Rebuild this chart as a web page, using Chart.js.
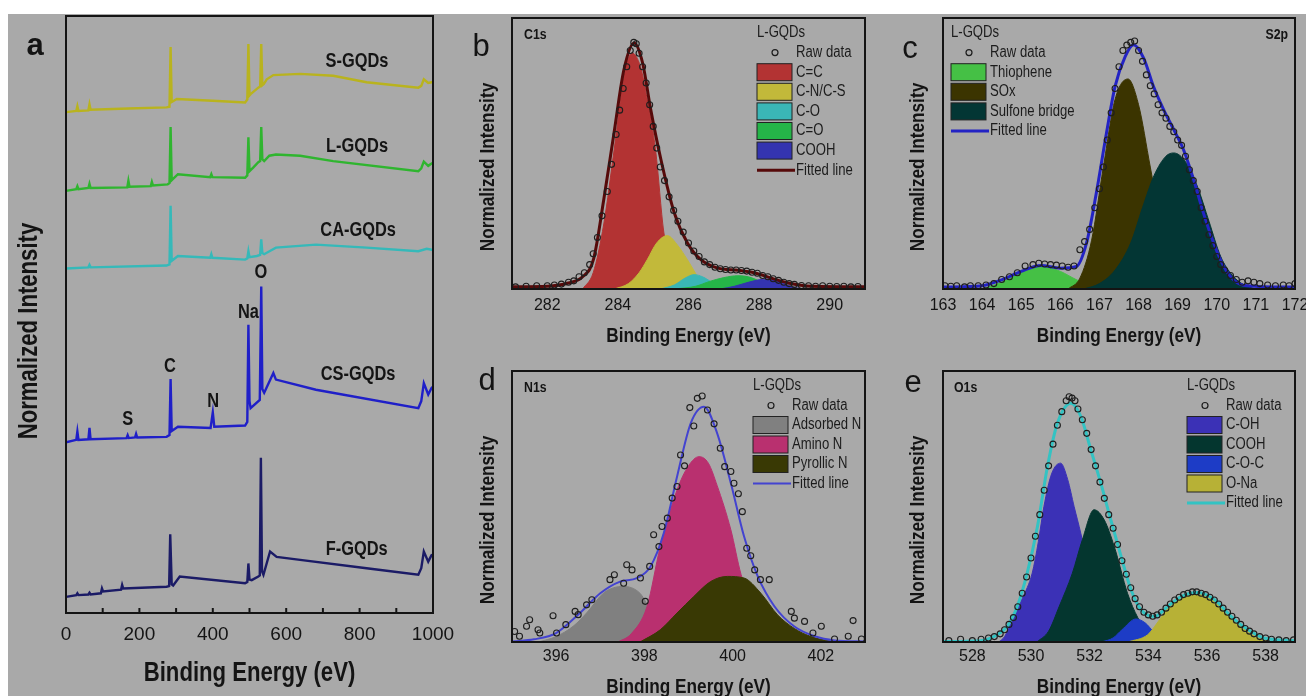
<!DOCTYPE html>
<html>
<head>
<meta charset="utf-8">
<title>XPS spectra of GQDs</title>
<script src="https://cdn.jsdelivr.net/npm/chart.js@4.4.1/dist/chart.umd.min.js"></script>
<style>
  body { margin: 0; background: #fff; width: 1306px; height: 696px; overflow: hidden; position: relative; }
  #bg { position: absolute; left: 8px; top: 14px; right: 0; bottom: 0; background: #a9a9a9; }
  canvas { position: absolute; }
</style>
</head>
<body>
<div id="bg"></div>
<canvas id="panelA" width="463" height="696" style="left:0;top:0"></canvas>
<canvas id="panelB" width="420" height="350" style="left:460px;top:0"></canvas>
<canvas id="panelC" width="440" height="350" style="left:880px;top:0"></canvas>
<canvas id="panelD" width="420" height="360" style="left:460px;top:340px"></canvas>
<canvas id="panelE" width="440" height="360" style="left:880px;top:340px"></canvas>
<script>
// ---------- data: [binding energy (eV), intensity] ----------

// a: survey spectra (stacked, arbitrary offsets 0..100)
const surveyNames = ['S-GQDs', 'L-GQDs', 'CA-GQDs', 'CS-GQDs', 'F-GQDs'];
const surveyS = [[0,83.9],[28,84.1],[31,84.9],[34,84.1],[61,84.2],[64,85.2],[67,84.3],[170,84.5],[274,84.7],[282,84.8],[285,94.8],[288,85.6],[302,86.1],[400,85.8],[488,85.5],[494,86.0],[497,95.3],[500,86.7],[503,86.9],[524,88.0],[529,88.2],[532,95.3],[535,88.4],[539,88.6],[547,89.4],[565,90.1],[638,90.3],[728,90.0],[819,88.9],[960,88.0],[968,88.3],[975,89.4],[987,88.8],[996,88.9],[1000,89.0]];
const surveyL = [[0,70.7],[28,71.0],[31,71.5],[34,71.0],[61,71.2],[64,71.9],[67,71.2],[167,71.3],[170,72.4],[173,71.4],[231,71.5],[234,72.2],[237,71.6],[277,71.8],[282,72.0],[285,81.4],[288,72.5],[305,73.5],[393,73.0],[396,73.5],[399,73.0],[488,72.9],[494,73.3],[497,79.7],[500,74.0],[510,74.6],[524,75.5],[529,75.7],[532,81.4],[535,76.0],[540,75.7],[554,76.6],[572,76.8],[638,76.6],[728,75.7],[960,74.0],[968,74.5],[975,75.6],[987,74.9],[996,75.3],[1000,75.4]];
const surveyCA = [[0,57.7],[61,57.9],[64,58.3],[67,57.9],[274,58.2],[282,58.4],[285,68.2],[288,59.0],[305,59.8],[393,59.5],[396,60.1],[399,59.5],[488,59.2],[494,59.4],[497,60.6],[500,59.6],[520,59.8],[529,60.0],[532,62.6],[535,60.3],[540,60.1],[572,61.2],[681,61.7],[819,61.2],[960,60.6],[983,61.0],[1000,60.8]];
const surveyCS = [[0,28.6],[28,29.0],[31,30.4],[34,29.0],[61,29.1],[64,31.0],[67,29.1],[165,29.3],[168,29.8],[171,29.3],[188,29.4],[191,30.0],[194,29.4],[274,29.5],[282,29.8],[285,39.2],[288,30.5],[305,31.2],[394,31.0],[400,33.6],[404,31.2],[488,31.4],[494,32.0],[497,48.3],[500,35.5],[503,34.3],[528,35.7],[532,54.7],[535,37.5],[540,36.9],[565,40.2],[572,39.1],[681,37.4],[960,34.3],[968,35.5],[975,38.5],[987,36.6],[996,37.7],[1000,37.9]];
const surveyF = [[0,2.7],[28,3.0],[31,3.3],[34,3.0],[61,3.1],[64,3.4],[67,3.1],[95,3.3],[98,4.1],[101,3.6],[150,3.9],[153,4.7],[156,4.1],[274,4.4],[281,4.5],[284,13.2],[288,4.8],[292,4.6],[310,6.1],[488,5.0],[494,5.2],[497,8.3],[500,5.6],[506,5.5],[524,6.1],[528,6.3],[531,26.0],[534,7.0],[538,6.4],[556,10.3],[574,9.4],[638,8.9],[819,7.5],[960,6.4],[968,7.5],[975,10.3],[987,8.6],[996,9.7],[1000,9.8]];

// b: C1s (normalized 0..1)
const c1sLabels = ['C=C', 'C-N/C-S', 'C-O', 'C=O', 'COOH'];
const c1sRaw = [[281.1,0.008],[281.4,0.01],[281.7,0.012],[282.0,0.012],[282.2,0.015],[282.4,0.018],[282.6,0.025],[282.75,0.03],[282.9,0.045],[283.05,0.06],[283.2,0.09],[283.3,0.13],[283.42,0.19],[283.55,0.27],[283.7,0.36],[283.82,0.46],[283.95,0.57],[284.05,0.66],[284.15,0.74],[284.25,0.82],[284.35,0.88],[284.45,0.91],[284.52,0.905],[284.6,0.87],[284.7,0.82],[284.8,0.76],[284.9,0.68],[285.0,0.6],[285.1,0.52],[285.2,0.45],[285.32,0.4],[285.45,0.34],[285.58,0.29],[285.7,0.25],[285.85,0.21],[286.0,0.17],[286.15,0.14],[286.3,0.12],[286.45,0.1],[286.6,0.09],[286.75,0.08],[286.9,0.075],[287.05,0.072],[287.2,0.07],[287.35,0.07],[287.5,0.068],[287.65,0.066],[287.8,0.062],[287.95,0.058],[288.1,0.05],[288.25,0.045],[288.4,0.038],[288.55,0.032],[288.7,0.025],[288.85,0.02],[289.0,0.017],[289.2,0.013],[289.4,0.012],[289.6,0.01],[289.8,0.012],[290.0,0.01],[290.2,0.009],[290.4,0.01],[290.6,0.008],[290.8,0.009]];
const c1sFit = [[281.0,0.008],[282.0,0.01],[282.6,0.022],[283.0,0.045],[283.31,0.11],[283.6,0.33],[283.89,0.576],[284.17,0.809],[284.46,0.908],[284.7,0.834],[284.93,0.662],[285.22,0.477],[285.6,0.28],[285.97,0.17],[286.35,0.108],[286.83,0.077],[287.4,0.069],[287.88,0.059],[288.35,0.04],[288.82,0.022],[289.48,0.01],[291.0,0.008]];
const c1sCC = [[283.0,0],[283.3,0.06],[283.6,0.24],[283.9,0.52],[284.17,0.78],[284.4,0.871],[284.64,0.82],[284.83,0.7],[285.07,0.51],[285.3,0.21],[285.5,0.1],[285.8,0.03],[286.1,0]];
const c1sCN = [[283.9,0],[284.3,0.02],[284.6,0.06],[284.83,0.108],[285.1,0.17],[285.4,0.197],[285.7,0.16],[285.97,0.108],[286.35,0.03],[286.7,0]];
const c1sCO = [[285.2,0],[285.6,0.015],[285.9,0.04],[286.16,0.053],[286.4,0.045],[286.6,0.03],[286.9,0.008],[287.1,0]];
const c1sCdO = [[285.6,0],[286.2,0.01],[286.6,0.028],[287.0,0.042],[287.4,0.049],[287.7,0.045],[288.0,0.03],[288.3,0.012],[288.6,0]];
const c1sCOOH = [[286.9,0],[287.3,0.01],[287.7,0.025],[288.0,0.034],[288.25,0.037],[288.5,0.032],[288.8,0.015],[289.1,0.003],[289.3,0]];

// c: S2p
const s2pLabels = ['Thiophene', 'SOx', 'Sulfone bridge'];
const s2pRaw = [[163.05,0.012],[163.2,0.01],[163.35,0.012],[163.55,0.008],[163.7,0.012],[163.9,0.012],[164.1,0.015],[164.3,0.02],[164.5,0.035],[164.7,0.045],[164.9,0.06],[165.1,0.085],[165.3,0.09],[165.45,0.095],[165.6,0.092],[165.75,0.09],[165.9,0.088],[166.05,0.085],[166.2,0.08],[166.35,0.085],[166.5,0.145],[166.62,0.175],[166.75,0.22],[166.88,0.3],[167.0,0.37],[167.1,0.45],[167.2,0.55],[167.3,0.65],[167.4,0.74],[167.5,0.82],[167.6,0.88],[167.7,0.9],[167.8,0.91],[167.9,0.915],[168.0,0.88],[168.1,0.84],[168.2,0.79],[168.3,0.75],[168.4,0.72],[168.5,0.68],[168.6,0.65],[168.7,0.63],[168.8,0.6],[168.9,0.58],[169.0,0.55],[169.1,0.53],[169.2,0.49],[169.3,0.44],[169.4,0.4],[169.5,0.36],[169.6,0.3],[169.7,0.25],[169.8,0.2],[169.9,0.16],[170.0,0.12],[170.1,0.09],[170.2,0.07],[170.35,0.05],[170.5,0.035],[170.65,0.025],[170.8,0.03],[170.95,0.025],[171.1,0.02],[171.3,0.015],[171.5,0.012],[171.7,0.015],[171.85,0.012],[172.0,0.02]];
const s2pFit = [[163,0.007],[164,0.012],[164.5,0.034],[165,0.065],[165.5,0.087],[166,0.077],[166.41,0.083],[166.67,0.17],[166.92,0.354],[167.18,0.576],[167.4,0.748],[167.66,0.858],[167.87,0.901],[168.13,0.852],[168.38,0.748],[168.64,0.662],[168.9,0.588],[169.15,0.514],[169.41,0.403],[169.66,0.28],[169.92,0.17],[170.18,0.083],[170.43,0.034],[170.77,0.012],[172,0.007]];
const s2pThiophene = [[164.0,0],[164.5,0.025],[165.0,0.06],[165.56,0.083],[166.0,0.065],[166.4,0.035],[166.8,0.01],[167.2,0]];
const s2pSOx = [[166.2,0],[166.5,0.04],[166.8,0.18],[167.1,0.45],[167.4,0.7],[167.73,0.775],[168.0,0.68],[168.3,0.45],[168.6,0.22],[168.9,0.08],[169.2,0.02],[169.5,0]];
const s2pSulfone = [[166.6,0],[167.0,0.02],[167.4,0.07],[167.8,0.17],[168.1,0.3],[168.4,0.42],[168.7,0.49],[168.9,0.502],[169.2,0.47],[169.5,0.38],[169.8,0.25],[170.1,0.12],[170.4,0.05],[170.7,0.015],[171.0,0]];

// d: N1s
const n1sLabels = ['Adsorbed N', 'Amino N', 'Pyrollic N'];
const n1sRaw = [[395.06,0.039],[395.17,0.021],[395.33,0.058],[395.4,0.082],[395.59,0.045],[395.63,0.033],[395.93,0.097],[396.01,0.033],[396.22,0.064],[396.43,0.113],[396.5,0.101],[396.69,0.137],[396.81,0.156],[397.22,0.23],[397.32,0.248],[397.53,0.217],[397.6,0.285],[397.72,0.266],[397.91,0.236],[398.02,0.15],[398.12,0.279],[398.21,0.396],[398.33,0.352],[398.4,0.426],[398.52,0.457],[398.63,0.531],[398.74,0.574],[398.82,0.69],[398.91,0.65],[399.03,0.865],[399.12,0.797],[399.2,0.899],[399.31,0.908],[399.43,0.856],[399.58,0.805],[399.72,0.715],[399.82,0.647],[399.96,0.629],[400.03,0.586],[400.13,0.547],[400.22,0.481],[400.32,0.346],[400.41,0.318],[400.5,0.266],[400.63,0.23],[400.83,0.23],[401.33,0.113],[401.4,0.088],[401.63,0.076],[401.82,0.033],[402.01,0.058],[402.31,0.011],[402.62,0.021],[402.73,0.079],[402.92,0.011]];
const n1sFit = [[395.0,0.002],[395.5,0.01],[396.0,0.033],[396.54,0.107],[397.0,0.18],[397.45,0.223],[397.83,0.236],[398.14,0.279],[398.44,0.402],[398.74,0.61],[399.05,0.807],[399.35,0.868],[399.65,0.77],[399.96,0.586],[400.26,0.389],[400.57,0.242],[400.95,0.131],[401.4,0.057],[401.86,0.021],[402.31,0.006],[403.0,0.002]];
const n1sAdsorbed = [[395.6,0],[396.0,0.02],[396.4,0.06],[396.69,0.107],[397.07,0.18],[397.3,0.2],[397.53,0.205],[397.9,0.18],[398.1,0.13],[398.4,0.07],[398.8,0.02],[399.2,0]];
const n1sAmino = [[397.4,0],[397.7,0.03],[398.06,0.131],[398.36,0.352],[398.74,0.561],[399.0,0.65],[399.24,0.684],[399.45,0.66],[399.65,0.577],[399.96,0.414],[400.19,0.25],[400.5,0.12],[400.8,0.04],[401.1,0.008],[401.4,0]];
const n1sPyrollic = [[397.9,0],[398.36,0.045],[398.74,0.107],[399.12,0.168],[399.5,0.223],[399.88,0.242],[400.26,0.236],[400.64,0.18],[401.02,0.1],[401.4,0.05],[401.78,0.02],[402.16,0.005],[402.5,0]];

// e: O1s
const o1sLabels = ['C-OH', 'COOH', 'C-O-C', 'O-Na'];
const o1sRaw = [[527.2,0.005],[527.6,0.01],[528.0,0.005],[528.3,0.01],[528.55,0.015],[528.75,0.02],[528.95,0.03],[529.1,0.045],[529.25,0.065],[529.4,0.09],[529.55,0.13],[529.7,0.18],[529.85,0.24],[530.0,0.31],[530.15,0.39],[530.3,0.47],[530.45,0.56],[530.6,0.65],[530.75,0.73],[530.9,0.8],[531.05,0.85],[531.2,0.89],[531.3,0.905],[531.4,0.9],[531.5,0.89],[531.6,0.86],[531.75,0.82],[531.9,0.77],[532.05,0.71],[532.2,0.65],[532.35,0.59],[532.5,0.53],[532.65,0.47],[532.8,0.42],[532.95,0.36],[533.1,0.3],[533.25,0.25],[533.4,0.2],[533.55,0.16],[533.7,0.13],[533.85,0.11],[534.0,0.1],[534.15,0.095],[534.3,0.1],[534.45,0.11],[534.6,0.125],[534.75,0.14],[534.9,0.155],[535.05,0.165],[535.2,0.175],[535.35,0.18],[535.5,0.185],[535.65,0.185],[535.8,0.18],[535.95,0.175],[536.1,0.165],[536.25,0.155],[536.4,0.14],[536.55,0.125],[536.7,0.11],[536.85,0.095],[537.0,0.08],[537.15,0.065],[537.3,0.05],[537.45,0.04],[537.6,0.03],[537.8,0.02],[538.0,0.015],[538.2,0.01],[538.45,0.008],[538.7,0.005],[538.95,0.008]];
const o1sFit = [[527,0.002],[528.28,0.005],[528.85,0.027],[529.19,0.058],[529.53,0.131],[529.87,0.254],[530.22,0.426],[530.56,0.647],[530.9,0.807],[531.36,0.881],[531.7,0.832],[532.04,0.709],[532.38,0.586],[532.72,0.451],[533.07,0.316],[533.41,0.193],[533.75,0.119],[534.21,0.094],[534.66,0.131],[535.12,0.168],[535.69,0.183],[536.26,0.156],[536.83,0.094],[537.4,0.045],[537.97,0.014],[539,0.005]];
const o1sCOH = [[528.9,0],[529.1,0.02],[529.36,0.082],[529.7,0.16],[530.04,0.254],[530.25,0.37],[530.44,0.5],[530.7,0.62],[531.01,0.66],[531.25,0.6],[531.47,0.5],[531.7,0.4],[532.0,0.25],[532.4,0.1],[532.8,0.03],[533.2,0]];
const o1sCOOH = [[530.2,0],[530.6,0.04],[530.96,0.131],[531.41,0.254],[531.75,0.377],[532.15,0.488],[532.5,0.45],[532.84,0.352],[533.29,0.18],[533.64,0.09],[534.0,0.03],[534.4,0]];
const o1sCOC = [[532.4,0],[532.8,0.015],[533.1,0.045],[533.58,0.085],[533.9,0.07],[534.2,0.035],[534.6,0.005],[534.9,0]];
const o1sONa = [[533.3,0],[533.98,0.027],[534.3,0.07],[534.66,0.125],[535.12,0.165],[535.69,0.178],[536.3,0.15],[536.8,0.094],[537.3,0.045],[537.8,0.012],[538.2,0]];

// ---------- colours ----------
const surveyColors = ['#b9b31e', '#2fb52f', '#35b9b9', '#1f1fc8', '#1b1b66'];
const c1sColors = ['#b33333', '#c2b93a', '#3ab6b6', '#25b548', '#3434b0'];
const s2pColors = ['#45c045', '#3b3400', '#033634'];
const n1sColors = ['#808080', '#b9306f', '#393904'];
const o1sColors = ['#3b31b6', '#04362f', '#1d3cc6', '#b7b136'];

// no narrow face installed, so narrow text is drawn squeezed horizontally
const SQUEEZE = 0.82;
const REG = "'Liberation Sans', Arial, sans-serif";
const INK = '#141414';

function xy(pairs) {
    return pairs.map(function (p) { return { x: p[0], y: p[1] }; });
}

function squeezeText(ctx, text, x, y, font, align, rot) {
    ctx.save();
    ctx.translate(x, y);
    if (rot) ctx.rotate(rot);
    ctx.scale(SQUEEZE, 1);
    ctx.font = font;
    ctx.textAlign = align;
    ctx.textBaseline = 'middle';
    ctx.fillText(text, 0, 0);
    ctx.restore();
}

// frame, axis titles, letters, notes and the inset legends
const decoPlugin = {
    id: 'deco',
    afterDraw: function (chart, args, o) {
        const ctx = chart.ctx;
        const a = chart.chartArea;
        ctx.save();
        ctx.strokeStyle = INK;
        ctx.lineWidth = 2;
        ctx.strokeRect(a.left, a.top, a.right - a.left, a.bottom - a.top);

        if (o.innerTicks) {
            const xs = chart.scales.x;
            for (let v = xs.min + o.innerTicks; v < xs.max; v += o.innerTicks) {
                const px = xs.getPixelForValue(v);
                ctx.beginPath();
                ctx.moveTo(px, a.bottom);
                ctx.lineTo(px, a.bottom - 5);
                ctx.stroke();
            }
        }

        ctx.fillStyle = INK;
        // axis titles
        squeezeText(ctx, 'Binding Energy (eV)', (a.left + a.right) / 2, o.xTitle.y, 'bold ' + o.xTitle.size + 'px ' + REG, 'center', 0);
        squeezeText(ctx, 'Normalized Intensity', o.yTitle.x, o.yTitle.y, 'bold ' + o.yTitle.size + 'px ' + REG, 'center', -Math.PI / 2);

        if (o.letter) {
            ctx.textAlign = 'center';
            ctx.textBaseline = 'middle';
            ctx.font = (o.letter.bold ? 'bold ' : '') + '31px ' + REG;
            ctx.fillText(o.letter.text, o.letter.x, o.letter.y);
        }
        if (o.tag) {
            squeezeText(ctx, o.tag.text, o.tag.x, o.tag.y, 'bold 15px ' + REG, o.tag.align || 'left', 0);
        }
        if (o.notes) {
            o.notes.forEach(function (n) {
                squeezeText(ctx, n.text, chart.scales.x.getPixelForValue(n.e), chart.scales.y.getPixelForValue(n.i), 'bold 20px ' + REG, 'center', 0);
            });
        }
        if (o.legend) {
            const L = o.legend;
            ctx.fillStyle = '#1c1c1c';
            squeezeText(ctx, 'L-GQDs', L.x, L.y, '16px ' + REG, 'left', 0);
            let y = L.y + L.row;
            chart.data.datasets.forEach(function (d) {
                if (d.kind === 'circle') {
                    ctx.beginPath();
                    ctx.lineWidth = 1.2;
                    ctx.strokeStyle = '#1e1e1e';
                    ctx.arc(L.x + 18, y, 3, 0, Math.PI * 2);
                    ctx.stroke();
                } else if (d.kind === 'box') {
                    ctx.fillStyle = d.backgroundColor;
                    ctx.fillRect(L.x, y - 8.5, 35, 17);
                    ctx.lineWidth = 1;
                    ctx.strokeStyle = '#222';
                    ctx.strokeRect(L.x, y - 8.5, 35, 17);
                } else if (d.kind === 'line') {
                    ctx.beginPath();
                    ctx.lineWidth = d.borderWidth;
                    ctx.strokeStyle = d.borderColor;
                    ctx.moveTo(L.x, y);
                    ctx.lineTo(L.x + 38, y);
                    ctx.stroke();
                }
                ctx.fillStyle = '#1c1c1c';
                squeezeText(ctx, d.label, L.x + 39, y, '16px ' + REG, 'left', 0);
                y += L.row;
            });
        }
        ctx.restore();
    }
};
Chart.register(decoPlugin);

function panelOptions(p) {
    return {
        responsive: false,
        animation: false,
        devicePixelRatio: 1,
        events: [],
        layout: { padding: { left: 0, top: p.top, right: p.right, bottom: 0 } },
        plugins: { legend: { display: false }, tooltip: { enabled: false }, deco: p.deco },
        scales: {
            x: {
                type: 'linear', min: p.xMin, max: p.xMax,
                grid: { display: false },
                border: { display: false },
                ticks: {
                    stepSize: p.step, autoSkip: false, maxRotation: 0, color: INK, padding: p.tickPad,
                    font: { family: REG, size: p.tickSize },
                    callback: function (v) { return (v % p.every === 0) ? v : ''; }
                },
                afterFit: function (s) { s.height = p.xH; }
            },
            y: {
                min: 0, max: p.yMax,
                grid: { display: false },
                border: { display: false },
                ticks: { display: false },
                afterFit: function (s) { s.width = p.yW; }
            }
        }
    };
}

function xpsDatasets(raw, fit, fitColor, fitWidth, comps, labels, colors) {
    const ds = [];
    ds.push({
        label: 'Raw data', kind: 'circle', data: xy(raw), showLine: false,
        pointRadius: 3, pointStyle: 'circle', pointBackgroundColor: 'rgba(0,0,0,0)',
        pointBorderColor: '#1e1e1e', pointBorderWidth: 1.1, order: 0
    });
    comps.forEach(function (c, i) {
        ds.push({
            label: labels[i], kind: 'box', data: xy(c),
            backgroundColor: colors[i], borderColor: colors[i], borderWidth: 1,
            pointRadius: 0, fill: 'origin', cubicInterpolationMode: 'monotone',
            order: 2 + comps.length - i
        });
    });
    ds.push({
        label: 'Fitted line', kind: 'line', data: xy(fit),
        borderColor: fitColor, borderWidth: fitWidth, pointRadius: 0, fill: false,
        cubicInterpolationMode: 'monotone', order: 1
    });
    return ds;
}

// ---------- a: survey ----------
const surveyData = [surveyS, surveyL, surveyCA, surveyCS, surveyF];
new Chart(document.getElementById('panelA'), {
    type: 'line',
    data: {
        datasets: surveyData.map(function (s, i) {
            return { label: surveyNames[i], data: xy(s), borderColor: surveyColors[i], borderWidth: 2.4, pointRadius: 0, tension: 0, fill: false };
        })
    },
    options: panelOptions({
        xMin: 0, xMax: 1000, step: 100, every: 200, yMax: 100,
        top: 16, right: 30, yW: 66, xH: 83, tickSize: 19, tickPad: 2,
        deco: {
            innerTicks: 100,
            xTitle: { y: 674, size: 27 },
            yTitle: { x: 30, y: 331, size: 27 },
            letter: { text: 'a', x: 35, y: 46, bold: true },
            notes: [
                { text: 'S-GQDs', e: 793, i: 92.3 }, { text: 'L-GQDs', e: 793, i: 78.2 },
                { text: 'CA-GQDs', e: 796, i: 64.0 }, { text: 'CS-GQDs', e: 796, i: 39.9 },
                { text: 'F-GQDs', e: 792, i: 10.6 },
                { text: 'O', e: 531, i: 57.1 }, { text: 'Na', e: 497, i: 50.3 },
                { text: 'C', e: 283, i: 41.3 }, { text: 'N', e: 401, i: 35.5 }, { text: 'S', e: 168, i: 32.4 }
            ]
        }
    })
});

// ---------- b: C1s ----------
new Chart(document.getElementById('panelB'), {
    type: 'line',
    data: { datasets: xpsDatasets(c1sRaw, c1sFit, '#560a0a', 3, [c1sCC, c1sCN, c1sCO, c1sCdO, c1sCOOH], c1sLabels, c1sColors) },
    options: panelOptions({
        xMin: 281, xMax: 291, step: 1, every: 2, yMax: 1,
        top: 18, right: 15, yW: 52, xH: 61, tickSize: 16, tickPad: -1,
        deco: {
            xTitle: { y: 336, size: 21 },
            yTitle: { x: 28, y: 167, size: 21 },
            letter: { text: 'b', x: 21, y: 47 },
            tag: { text: 'C1s', x: 64, y: 35 },
            legend: { x: 297, y: 33, row: 19.6 }
        }
    })
});

// ---------- c: S2p ----------
new Chart(document.getElementById('panelC'), {
    type: 'line',
    data: { datasets: xpsDatasets(s2pRaw, s2pFit, '#2323c4', 3, [s2pThiophene, s2pSOx, s2pSulfone], s2pLabels, s2pColors) },
    options: panelOptions({
        xMin: 163, xMax: 172, step: 1, every: 1, yMax: 1,
        top: 18, right: 25, yW: 63, xH: 61, tickSize: 16, tickPad: -1,
        deco: {
            xTitle: { y: 336, size: 21 },
            yTitle: { x: 38, y: 167, size: 21 },
            letter: { text: 'c', x: 30, y: 49 },
            tag: { text: 'S2p', x: 408, y: 35, align: 'right' },
            legend: { x: 71, y: 33, row: 19.6 }
        }
    })
});

// ---------- d: N1s ----------
new Chart(document.getElementById('panelD'), {
    type: 'line',
    data: { datasets: xpsDatasets(n1sRaw, n1sFit, '#4343d0', 2, [n1sAdsorbed, n1sAmino, n1sPyrollic], n1sLabels, n1sColors) },
    options: panelOptions({
        xMin: 395, xMax: 403, step: 1, every: 2, yMax: 1,
        top: 31, right: 15, yW: 52, xH: 58, tickSize: 16, tickPad: -3,
        deco: {
            xTitle: { y: 347, size: 21 },
            yTitle: { x: 28, y: 180, size: 21 },
            letter: { text: 'd', x: 27, y: 41 },
            tag: { text: 'N1s', x: 64, y: 48 },
            legend: { x: 293, y: 46, row: 19.5 }
        }
    })
});

// ---------- e: O1s ----------
new Chart(document.getElementById('panelE'), {
    type: 'line',
    data: { datasets: xpsDatasets(o1sRaw, o1sFit, '#33c3c3', 3, [o1sCOH, o1sCOOH, o1sCOC, o1sONa], o1sLabels, o1sColors) },
    options: panelOptions({
        xMin: 527, xMax: 539, step: 1, every: 2, yMax: 1,
        top: 31, right: 25, yW: 63, xH: 58, tickSize: 16, tickPad: -3,
        deco: {
            xTitle: { y: 347, size: 21 },
            yTitle: { x: 38, y: 180, size: 21 },
            letter: { text: 'e', x: 33, y: 43 },
            tag: { text: 'O1s', x: 74, y: 48 },
            legend: { x: 307, y: 46, row: 19.5 }
        }
    })
});
</script>
</body>
</html>
